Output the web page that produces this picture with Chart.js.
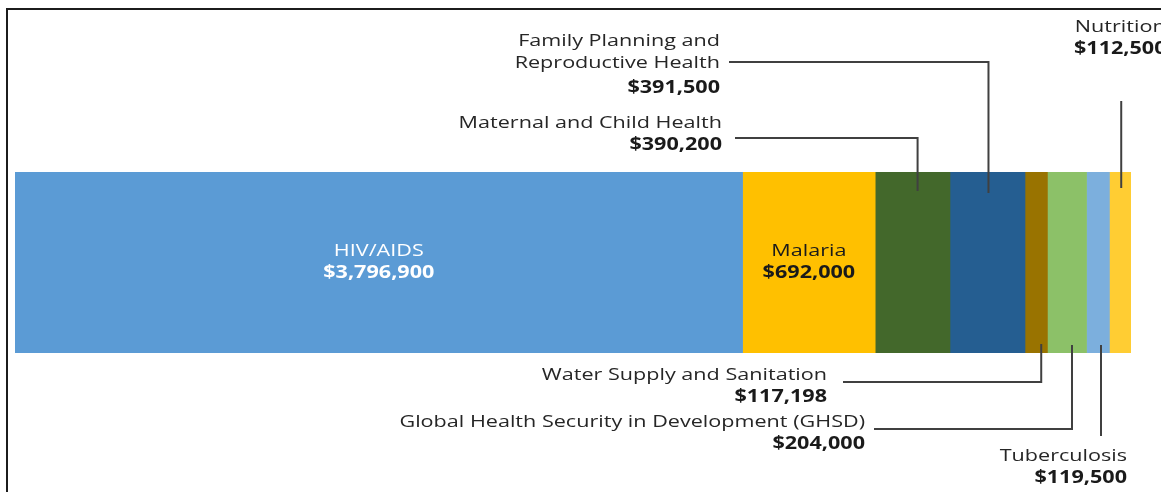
<!DOCTYPE html>
<html lang="en">
<head>
  <meta charset="UTF-8">
  <title>Health funding by program area</title>
  <script src="https://cdn.jsdelivr.net/npm/chart.js@4.4.1/dist/chart.umd.min.js"></script>
  <style>
    html, body {
      margin: 0;
      padding: 0;
      background: #fff;
    }

    .wrap {
      position: relative;
      width: 1161px;
      height: 492px;
      overflow: hidden;
    }

    /* frame of the original picture, only top and left edges show */
    .frame {
      position: absolute;
      left: 6px;
      top: 8px;
      width: 1300px;
      height: 700px;
      border-top: 2px solid #1c1c1c;
      border-left: 2px solid #1c1c1c;
      pointer-events: none;
    }
  </style>
</head>
<body>
  <div class="wrap">
    <canvas id="fundChart"></canvas>
    <div class="frame"></div>
  </div>
  <script>
    const categories = [
      'HIV/AIDS',
      'Malaria',
      'Maternal and Child Health',
      ['Family Planning and', 'Reproductive Health'],
      'Water Supply and Sanitation',
      'Global Health Security in Development (GHSD)',
      'Tuberculosis',
      'Nutrition'
    ];
    const funding = [3796900, 692000, 390200, 391500, 117198, 204000, 119500, 112500];
    const colors = ['#5b9bd5', '#ffc000', '#43682b', '#255e91', '#997300', '#8cc168', '#7cafdd', '#ffcd33'];

    const total = funding.reduce((a, b) => a + b, 0);
    const money = v => '$' + v.toLocaleString('en-US');

    // where each label goes (inside the bar or off to the side with a leader line)
    const placement = [
      { inside: true, color: '#ffffff' },
      { inside: true, color: '#1a1a1a' },
      { tx: 722, ty: 123, align: 'right', dx: 5, fromTop: 19, elbowY: 138, endX: 735 },
      { tx: 720, ty: 41, align: 'right', dx: 1, fromTop: 21, elbowY: 62, endX: 729 },
      { tx: 827, ty: 375, align: 'right', dx: 5, fromBottom: 9, elbowY: 382, endX: 843 },
      { tx: 865, ty: 422, align: 'right', dx: 5, fromBottom: 8, elbowY: 429, endX: 874 },
      { tx: 1127, ty: 456, align: 'right', dx: 3, fromBottom: 8, elbowY: 436 },
      { tx: null, ty: 27, align: 'center', dx: 1, fromTop: 16, elbowY: 101 }
    ];

    const FS = 17;
    const SX = 1.27;
    const LH = 22;

    function drawText(ctx, s, x, y, align, bold, color) {
      ctx.save();
      ctx.font = (bold ? 'bold ' : '') + FS + 'px "Open Sans"';
      const w = ctx.measureText(s).width * SX;
      const left = align === 'right' ? x - w : align === 'center' ? x - w / 2 : x;
      ctx.translate(left, y);
      ctx.scale(SX, 1);
      ctx.textAlign = 'left';
      ctx.textBaseline = 'middle';
      ctx.fillStyle = color;
      ctx.fillText(s, 0, 0);
      ctx.restore();
    }

    const labelPlugin = {
      id: 'segmentLabels',
      afterDatasetsDraw(chart) {
        const ctx = chart.ctx;
        chart.data.datasets.forEach((ds, i) => {
          const bar = chart.getDatasetMeta(i).data[0];
          const p = placement[i];
          const mid = (bar.x + bar.base) / 2;
          const top = bar.y - bar.height / 2;
          const bottom = bar.y + bar.height / 2;
          const lines = [].concat(categories[i]);

          if (p.inside) {
            drawText(ctx, lines[0], mid, bar.y - 11, 'center', false, p.color);
            drawText(ctx, money(funding[i]), mid, bar.y + 11, 'center', true, p.color);
            return;
          }

          // leader line
          const lx = mid + p.dx;
          const y0 = p.fromTop != null ? top + p.fromTop : bottom - p.fromBottom;
          ctx.save();
          ctx.strokeStyle = '#404040';
          ctx.lineWidth = 2;
          ctx.beginPath();
          ctx.moveTo(lx, y0);
          ctx.lineTo(lx, p.elbowY);
          if (p.endX != null) ctx.lineTo(p.endX, p.elbowY);
          ctx.stroke();
          ctx.restore();

          const tx = p.tx == null ? mid : p.tx;
          let y = p.ty;
          lines.forEach(l => {
            drawText(ctx, l, tx, y, p.align, false, '#262626');
            y += LH;
          });
          drawText(ctx, money(funding[i]), tx, y + (lines.length > 1 ? 3 : 0), p.align, true, '#1a1a1a');
        });
      }
    };

    new Chart(document.getElementById('fundChart'), {
      type: 'bar',
      data: {
        labels: [''],
        datasets: categories.map((c, i) => ({
          label: [].concat(c).join(' '),
          data: [funding[i]],
          backgroundColor: colors[i],
          borderWidth: 0,
          barPercentage: 1,
          categoryPercentage: 1
        }))
      },
      options: {
        indexAxis: 'y',
        responsive: true,
        maintainAspectRatio: false,
        animation: false,
        layout: {
          padding: { left: 15, right: 30, top: 172, bottom: 139 }
        },
        scales: {
          x: { stacked: true, min: 0, max: total, display: false },
          y: { stacked: true, display: false }
        },
        plugins: {
          legend: { display: false },
          tooltip: { enabled: false }
        }
      },
      plugins: [labelPlugin]
    });
  </script>
</body>
</html>
